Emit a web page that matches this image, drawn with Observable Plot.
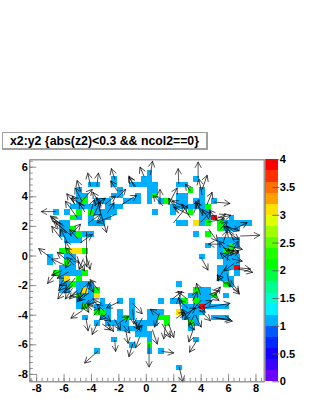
<!DOCTYPE html>
<html>
<head>
<meta charset="utf-8">
<script src="https://cdn.jsdelivr.net/npm/d3@7"></script>
<script src="https://cdn.jsdelivr.net/npm/@observablehq/plot@0.6"></script>
<style>
html,body{margin:0;padding:0;background:#fff;}
#wrap{position:relative;width:316px;height:409px;overflow:hidden;font-family:"Liberation Sans",Arial,sans-serif;}
#wrap svg{position:absolute;left:0;top:0;background:transparent;}
#title{position:absolute;left:2px;top:132px;width:206px;height:18px;box-sizing:border-box;border:1px solid #a0a0a0;border-right:2px solid #a0a0a0;border-bottom:2px solid #a0a0a0;background:#fff;font-weight:bold;font-size:12.3px;line-height:16px;padding-left:7px;white-space:nowrap;}
</style>
</head>
<body>
<div id="wrap"><div id="title">x2:y2 {abs(z2)&lt;0.3 &amp;&amp; ncol2==0}</div></div>
<script>
const xDomain = [-8.5, 8.6];
const yDomain = [-8.5, 6.5];
const binsPerAxis = 40;
const xMajor = [-8,-6,-4,-2,0,2,4,6,8];
const yMajor = [-8,-6,-4,-2,0,2,4,6];
const xMinor = d3.range(-8.4, 8.5, 0.4);
const yMinor = d3.range(-8.4, 6.5, 0.4);
const zTicks = [0,0.5,1,1.5,2,2.5,3,3.5,4];
const zBands = [0,0.2,0.4,0.6,0.8,1,1.2,1.4,1.6,1.8,2,2.2,2.4,2.6,2.8,3,3.2,3.4,3.6,3.8];
const palette = ["#6c00ff","#3c00ff","#1400ff","#0028ff","#0058ff","#00b0ff","#00f0ff","#00ffd0","#00ff90","#00ff44","#00ff00","#20ff00","#60ff00","#a0ff00","#e0ff00","#ffe000","#ffa000","#ff7000","#ff3000","#ff0000"];

// occupied bins by row index from the top: row -> column indices
const count1 = {
 2:[20],3:[14,19,20,28],4:[10,11,14,17,18,19,20,21,25,26],5:[8,15,20,21,29],6:[8,9,14,15,18,20,25,26,29],
 7:[8,11,12,13,16,17,18,20,22,25,26,28,29,31],8:[7,8,9,10,11,13,14,15,24,25,26,27,28,29],9:[4,6,11,12,13,14,21,24,29,30],
 10:[8,10,12,13,29,30,34],11:[5,6,10,11,12,25,26,29,33,34,35,36,37],12:[5,6,33,34,35],13:[5,6,7,9,10,28],14:[6,7,8,32,33,34,35],
 15:[30,32,33,35],16:[32],17:[3,6,7,29,32,33,34,35],18:[3,7,33,34,35],19:[5,6,7,32,33,34],20:[5,6,7,8,32,33,35],21:[5,32,33,34],
 22:[5,6,8,9,10,25,34],23:[5,6,8,10,29,30],24:[9,10,27,28,29,30,33],25:[8,9,10,12,15,17,22,24,25,29,30],
 26:[8,11,12,13,17,26,27,28,30,31,32,33],27:[13,15,17,20,21,22,26,27,28,29],28:[9,12,13,15,17,20,21,26,27,28,31,32,33],
 29:[11,13,14,15,16,18,19,20,21,28],30:[15,16,17,18,19,27],31:[18,19,20],32:[14,20,28],33:[17],34:[11,20,22],37:[25]
};
const count2 = {
 5:[27],6:[21],7:[9,23],8:[30],9:[8,10,27],10:[7],11:[30,32],12:[7,32],13:[8,30],15:[34],16:[5,6,9,33,34],18:[6],20:[4,9],21:[8],
 22:[7,33],23:[11,28],24:[8,31],25:[26,28],26:[9],27:[11,12],28:[16,22,23],29:[23,27],33:[20]
};
const count3 = {11:[28],16:[7,8],21:[6],23:[9],24:[11],27:[25]};
const count4 = {10:[31],19:[35],26:[29]};

const arrows = [
[-6.6,3,-7.66,3],[-4.07,4.75,-4.27,5.6],[-3.6,4.75,-3.5,5.6],[-2.3,5.2,-2.55,5.9],[-0.17,5.4,-0.46,6.0],[0.3,5.5,0.45,6.4],
[-4.8,4.4,-5.05,5.1],[-5.2,3.5,-5.8,4.2],[-4.7,3.7,-5.2,4.6],[-4.55,3.4,-5.5,3.9],[-3.45,3.25,-2.9,1.6],[-2.25,2.8,-3.6,2.25],
[-6.25,2.15,-7,2.7],[-6,2,-6.9,2.6],[-5.8,1.6,-6.75,2.35],[-5.45,1.35,-6.6,2.25],[-4.36,1.6,-4.36,-0.7],[-5,1.15,-5.6,1.8],
[-7,-0.1,-7.85,0.5],[-5.6,0.55,-5.9,1.0],[-2.12,4.4,-2.6,5.07],[-0.9,4.7,-1.27,5.4],[-0.78,4.7,-1.27,5.3],[-2.12,3.95,-1.5,4.5],
[-1.75,3.5,-0.7,4.1],[-3.3,3.4,-3.9,4.3],[-3.8,3.4,-3.0,3.9],[-4.5,3.0,-4.9,3.6],[-4.1,2.8,-3.8,3.8],
[2.37,4.9,2.32,5.9],[3.78,5.3,3.78,6.35],[4.07,4.5,4.44,5.45],[3.2,4.4,2.85,4.85],[4.07,4.15,3.83,5.2],[4.93,3.65,6.1,3.55],
[4.44,3.5,4.8,4.3],[6.88,1.35,8.27,1.4],[5.5,2.6,6.15,2.75],[2,2.25,3,3.4],[3.1,2.8,2,3.3],[1.63,3.5,2.25,4.6],[1.0,3.5,1.0,4.5],
[1.2,3.4,0.5,4.1],[4.5,2.3,5.7,2.5],[3.2,2.6,2.6,3.5],[4.2,2.9,3.6,3.6],[4.0,2.3,4.7,3.0],[5.2,2.4,4.6,3.1],[6.4,1.0,5.9,2.0],
[5.9,0.7,7.0,0.45],[5.78,2.03,6.76,1.7],[4.0,-0.1,4.5,-0.95],[5.5,0.8,4.55,0.8],[5.6,0.9,5.9,1.7],[5.9,0.3,5.3,1.0],[6.2,0.2,6.7,1.0],
[5.6,-0.1,6.4,0.4],[6.1,-0.3,5.4,0.2],[5.9,-0.3,6.0,0.5],[6.4,-0.5,5.7,-1.0],
[-3.55,-6.44,-4.5,-7.23],[-2.3,-5.7,-2.24,-6.44],[-4.4,-4.2,-4.25,-5.05],[-3.55,-4.5,-3.95,-5.3],[-4.68,-3.7,-5.5,-4.2],
[-6.63,-1.2,-7.2,-1.85],[-6,-2.35,-6.45,-2.9],[-1,-5.95,-1.27,-6.8],[0.2,-5.95,0.2,-7.5],[-1.5,-5,-1.33,-5.9],[-0.5,-5.5,-0.78,-6.2],
[-1,-3.2,-0.3,-3.9],[-2,-3.1,-2.9,-3.5],[-2.1,-4.6,-1.3,-4.1],[0.45,-5,0.8,-5.95],
[-5.9,-0.2,-6.5,0.25],[-6,-0.6,-6.9,-0.2],[-5.3,-0.6,-5.8,-0.1],[-6.2,-1.0,-6.9,-1.3],[-5.7,-1.1,-6.5,-1.5],[-5.6,-1.6,-6.3,-2.0],
[-5.2,-1.5,-5.9,-2.3],[-5.4,-2.0,-6.0,-2.5],[-5.0,-2.3,-5.6,-2.9],[-4.8,-2.5,-5.5,-2.7],[-4.5,-2.7,-4.2,-1.8],[-4.2,-2.5,-4.9,-3.0],
[-4.2,-3.0,-4.7,-3.6],[-4.5,-3.3,-4.2,-3.8],[-3.7,-3.5,-4.3,-3.3],[-3.5,-2.3,-4.1,-1.6],[-3.3,-3.2,-3.9,-2.9],[-3.8,-4.0,-3.4,-3.5],
[-3.2,-4.0,-2.6,-4.4],[-2.9,-3.9,-3.4,-4.3],[-2.8,-4.5,-2.4,-5.1],[-3.2,-4.6,-2.6,-5.0],[-2.3,-4.3,-1.9,-5.0],[-1.7,-4.7,-1.2,-5.2],
[-0.9,-4.4,-0.5,-5.0],[-0.7,-5.1,-0.3,-4.7],[-0.3,-4.2,-0.7,-4.9],[-1.0,-3.6,-0.9,-4.6],[-5.0,-0.3,-4.5,-1.0],[-4.4,0,-4.1,-0.9],
[-4.6,-0.2,-4.9,-0.9],[-5.5,-0.2,-5.9,-0.8],
[2.4,-7.5,2.66,-8.5],[1.15,-6.45,2,-6.55],[3.7,-5.7,3.15,-6.5],[3.45,-4.9,3.1,-5.8],[1.63,-4.6,2,-5.5],[1.15,-4.6,1.75,-5.5],
[1.4,-4.7,1.27,-5.6],[5.9,-1.8,6.8,-2.57],[6.75,-0.88,7.75,-1.1],[6.75,-0.8,7.6,-0.88],[4.9,-4.15,6.27,-4.4],[4.9,-4.15,6.15,-4.3],
[1.9,-2.9,2.6,-2.4],[3.95,-3.7,4.68,-4.37],[4.3,-3.5,6.1,-3.2],[3.95,-2.6,3.66,-1.85],[2.9,-2.85,2.3,-2.4],[2.5,-4.15,3.6,-3.5],
[2.6,-4.0,2.36,-2.8],[4.6,-2.6,5.3,-2.35],[4.7,-2.6,5.3,-3],[3.0,-3.5,2.4,-3.0],[3.3,-3.7,2.8,-4.3],[3.0,-4.2,2.6,-3.6],[3.5,-4.0,3.1,-4.7],
[3.7,-3.3,4.3,-3.8],[3.6,-4.0,4.0,-4.8],[4.0,-3.0,3.4,-3.6],[4.1,-3.4,4.8,-3.0],[2.2,-4.2,2.8,-3.8],[3.4,-3.0,3.7,-2.4],[3.2,-4.5,3.5,-5.0],
[0.9,-4.0,0.3,-3.6],[0.95,-3.9,0.6,-4.8],
[-4.56,3.15,-5.4,4.05],[-5.05,2.6,-5.9,3.7],[-4.8,3.6,-3.95,4.5],[-3.35,3.05,-3.6,3.95],[-3.0,3.5,-2.25,4.05],[-2.85,2.9,-2.35,3.6],
[-3.85,2.7,-3.35,3.7],[-4.2,2.25,-3.35,2.8],[-5.5,1.45,-4.8,2.15],[-6.15,1.1,-6.9,2.0],[-5.8,1,-6.25,1.8],[-4.8,0.9,-3.95,1.45],
[-5.65,0.2,-4.9,-0.45],[-5.4,0.1,-5.9,0.55],
[3.46,2.9,3.83,3.8],[4.07,2.8,3.6,3.7],[4.56,2.5,4.07,3.15],[5.05,2.5,5.78,2.8],[5.4,1.8,5.9,2.35],[6.0,1.6,6.75,1.1],[6.4,1.8,7.35,2.25],
[6.4,1.45,5.65,2],[5.65,0.55,6.75,0.2],[6,0,6.75,0.35],[6.27,-0.2,7,-0.35],[4.56,1.8,5.17,1.0],[2.73,3.38,1.88,3.7],[2.37,2.9,1.63,3.9],
[5.78,-0.77,5.17,-1.67],[6.15,-1.67,6.75,-2.45],[5.78,-1.9,5.17,-1.3],[5.9,-1.2,6.1,-2.1],[4.9,-2.7,5.4,-2.1],
[-5.78,-1.67,-6.4,-2.34],[-5.4,-2.2,-5.9,-2.9],[-4.6,-2.1,-4.95,-2.9],[-4.2,-1.75,-3.85,-2.45],[-4.55,-2.55,-5.05,-3.1],[-3.6,-3.1,-4.3,-3.25],[-3.1,-3.7,-3.6,-3.25]
];

const binW = (xDomain[1]-xDomain[0])/binsPerAxis;
const binH = (yDomain[1]-yDomain[0])/binsPerAxis;
const cells = [];
[[count1,1.1],[count2,2.1],[count3,3.1],[count4,3.9]].forEach(([rows,v]) => {
  for (const r of Object.keys(rows)) for (const c of rows[r]) cells.push({
    x1:xDomain[0]+c*binW, x2:xDomain[0]+(c+1)*binW,
    y1:yDomain[1]-(+r+1)*binH, y2:yDomain[1]-(+r)*binH, v});
});
const colorScale = {type:"threshold", domain:zBands.slice(1), range:palette};
const axisColor = "#777";
const labelFont = {fontSize:11, fontWeight:"bold", fill:"#000"};
const W = 316, H = 409, mL = 29.3, mR = 52.3, mT = 159.3, mB = 27.7;
const pxX = (W-mL-mR)/(xDomain[1]-xDomain[0]);
const pxY = (H-mT-mB)/(yDomain[1]-yDomain[0]);
const dxPx = d => (d[2]-d[0])*pxX, dyPx = d => (d[3]-d[1])*pxY;
const headShape = {draw(ctx, l){
  ctx.moveTo(0,0); ctx.lineTo(0,-l);
  ctx.moveTo(-3,-l+5.5); ctx.lineTo(0,-l); ctx.lineTo(3,-l+5.5);
}};

const main = Plot.plot({
  width:W, height:H, marginLeft:mL, marginRight:mR, marginTop:mT, marginBottom:mB,
  style:{fontFamily:'"Liberation Sans",Arial,sans-serif', background:"transparent"},
  x:{domain:xDomain}, y:{domain:yDomain}, color:colorScale, length:{type:"identity"},
  marks:[
    Plot.rect(cells,{x1:"x1",x2:"x2",y1:"y1",y2:"y2",fill:"v",shapeRendering:"crispEdges"}),
    Plot.axisX({ticks:xMinor,tickSize:-3.5,stroke:axisColor,strokeWidth:0.8,tickFormat:()=>"",label:null}),
    Plot.axisX({ticks:xMajor,tickSize:-7.5,stroke:axisColor,strokeWidth:0.8,tickFormat:()=>"",label:null}),
    Plot.axisX({ticks:xMajor,tickSize:0,tickPadding:2,tickFormat:d=>String(d),label:null,...labelFont}),
    Plot.axisY({ticks:yMinor,tickSize:-3.5,stroke:axisColor,strokeWidth:0.8,tickFormat:()=>"",label:null}),
    Plot.axisY({ticks:yMajor,tickSize:-7,stroke:axisColor,strokeWidth:0.8,tickFormat:()=>"",label:null}),
    Plot.axisY({ticks:yMajor,tickSize:0,tickPadding:2,tickFormat:d=>String(d),label:null,...labelFont}),
    Plot.vector(arrows,{x:d=>d[0],y:d=>d[1],anchor:"start",shape:headShape,
      length:d=>Math.hypot(dxPx(d),dyPx(d)),
      rotate:d=>Math.atan2(dxPx(d),dyPx(d))*180/Math.PI,
      stroke:"#000",strokeWidth:0.65}),
    Plot.frame({stroke:"#808080",strokeWidth:1.2})
  ]
});
const bar = Plot.plot({
  width:W, height:H, marginLeft:265, marginRight:37.7, marginTop:mT, marginBottom:mB,
  style:{fontFamily:'"Liberation Sans",Arial,sans-serif', background:"transparent"},
  x:{domain:[0,1],axis:null}, y:{domain:[0,4]}, color:colorScale,
  marks:[
    Plot.rect(zBands,{x1:0,x2:1,y1:d=>d,y2:d=>d+0.2,fill:d=>d+0.1,shapeRendering:"crispEdges"}),
    Plot.axisY({anchor:"right",ticks:zTicks,tickSize:-7,stroke:"#555",strokeWidth:0.8,tickFormat:()=>"",label:null}),
    Plot.axisY({anchor:"right",ticks:zTicks,tickSize:0,tickPadding:1,tickFormat:d=>String(d),label:null,...labelFont}),
    Plot.ruleX([0],{stroke:"#808080",strokeWidth:0.8})
  ]
});
const wrap = document.getElementById("wrap");
wrap.appendChild(main);
wrap.appendChild(bar);
</script>
</body>
</html>
